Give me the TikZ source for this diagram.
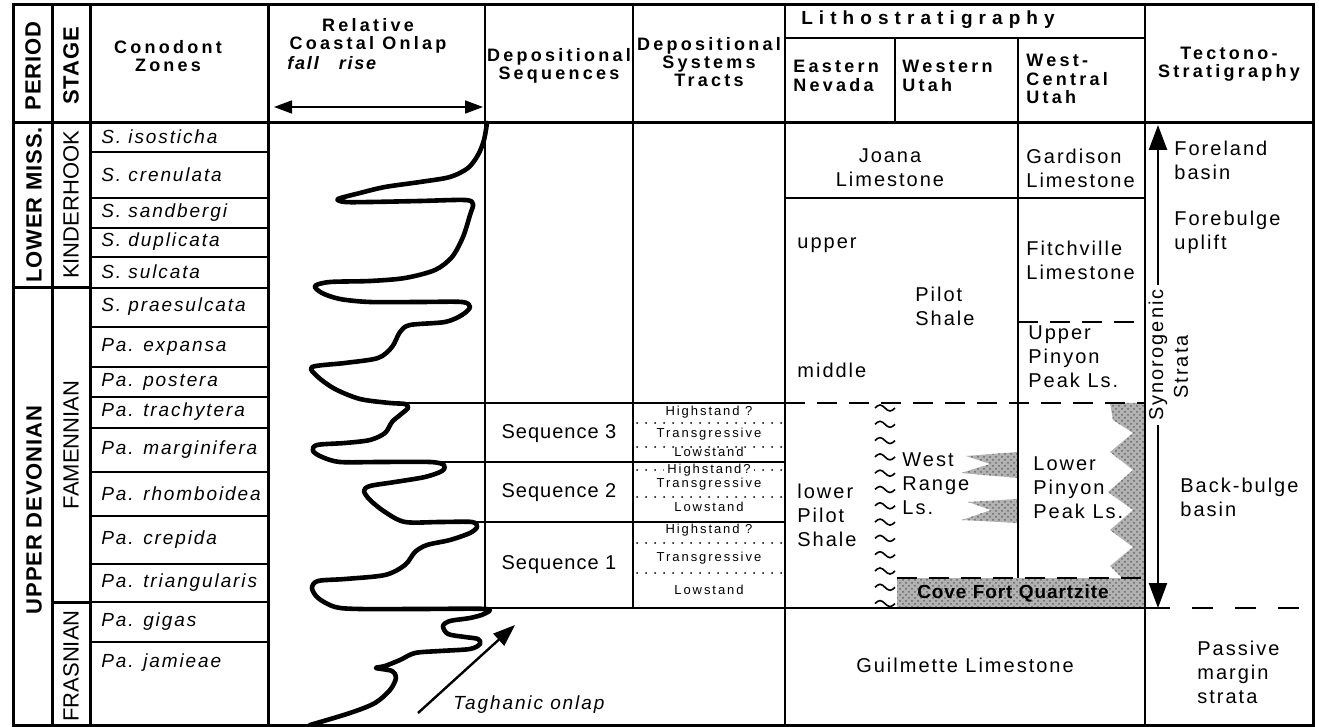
\documentclass[tikz,border=0pt]{standalone}
\usepackage{fontspec}
\setmainfont{Liberation Sans}
\usetikzlibrary{arrows.meta,patterns}

\begin{document}
\begin{tikzpicture}[x=0.5pt, y=-0.5pt,
    frame/.style={line width=1.5pt},
    rule/.style={line width=1pt},
    dashd/.style={line width=1pt, dash pattern=on 10pt off 6pt},
    dots/.style={line width=1pt, line cap=round, dash pattern=on 0pt off 4.5pt},
    hd/.style={font=\bfseries\fontsize{9}{9.2}\selectfont\addfontfeatures{LetterSpace=18}, align=center, inner sep=0pt},
    vhd/.style={font=\bfseries\fontsize{11}{12}\selectfont\addfontfeatures{LetterSpace=4}, rotate=90, inner sep=0pt},
    vst/.style={font=\fontsize{11}{12}\selectfont, rotate=90, inner sep=0pt},
    zone/.style={font=\itshape\fontsize{9.5}{10}\selectfont\addfontfeatures{LetterSpace=10}, anchor=west, inner sep=0pt},
    txt/.style={font=\fontsize{10}{12}\selectfont\addfontfeatures{LetterSpace=10}, align=left, anchor=west, inner sep=0pt},
    seq/.style={font=\fontsize{10}{10}\selectfont\addfontfeatures{LetterSpace=5}, inner sep=0pt},
    tract/.style={font=\fontsize{6.5}{7}\selectfont\addfontfeatures{LetterSpace=15}, inner sep=0pt},
    stip/.style={fill=black!30, postaction={pattern=crosshatch dots, pattern color=black!60}},
    arr/.style={-{Triangle[length=12.5pt, width=9pt]}, line width=1.2pt},
    onlap/.style={line width=2.3pt, line cap=round, line join=round}
]
\useasboundingbox (0,0) rectangle (1319,727);

% shaded units
\fill[stip] (897,578) rectangle (1145,608);
\fill[stip] (1145,403) -- (1110,403) -- (1113,420) -- (1133,433) -- (1110,452) -- (1133,470) -- (1108,492) -- (1133,510) -- (1110,530) -- (1133,547) -- (1110,566) -- (1122,578) -- (1145,578) -- cycle;
\fill[stip] (1018,452) -- (966,456) -- (990,464) -- (961,473) -- (1018,478) -- cycle;
\fill[stip] (1018,499) -- (968,502) -- (991,510) -- (962,520) -- (1018,523) -- cycle;

% table frame and rules
\draw[frame] (13,5) rectangle (1313,725);
\draw[frame] (13,123) -- (1313,123);
\draw[frame] (52,5) -- (52,725);
\draw[frame] (90,5) -- (90,725);
\draw[frame] (268,5) -- (268,725);
\draw[frame] (13,288) -- (90,288);
\draw[frame] (52,602) -- (90,602);
\foreach \y in {152,198,228,257,288,327,367,397,428,472,516,564,602,642}
  \draw[rule] (90,\y) -- (268,\y);
\draw[rule] (485,5) -- (485,608);
\draw[rule] (633,5) -- (633,608);
\draw[rule] (785,5) -- (785,725);
\draw[rule] (1145,5) -- (1145,725);
\draw[rule] (785,38) -- (1145,38);
\draw[rule] (895,38) -- (895,123);
\draw[rule] (1018,38) -- (1018,403);
\draw[rule] (1018,403) -- (1018,578);
\draw[rule] (785,198) -- (1145,198);
\draw[rule] (400,403) -- (785,403);
\draw[rule] (340,462) -- (785,462);
\draw[rule] (405,522) -- (785,522);
\draw[rule] (485,608) -- (1170,608);
\draw[dashd] (785,403) -- (1145,403);
\draw[dashd] (1018,322) -- (1145,322);
\draw[dashd] (897,578) -- (1145,578);
\draw[line width=1pt, dash pattern=on 10.5pt off 11pt] (1192,608) -- (1310,608);
\foreach \y in {423,447,497,543,573}
  \draw[dots] (637,\y) -- (783,\y);
\draw[dots] (637,470) -- (783,470);
\foreach \k in {0,...,12}
  \draw[line width=0.8pt] (875,{408+16.3*\k}) sin ++(5,-3) cos ++(5,3) sin ++(5,3) cos ++(5,-3);

% headings
\node[vhd] (hperiod) at (33,66) {PERIOD};
\node[vhd] (hstage) at (71,66) {STAGE};
\node[hd] (hzones) at (168,56) {Conodont\\Zones};
\node[hd] (honlap) at (368,36) {Relative\\Coastal Onlap};
\node[hd, anchor=west, font=\bfseries\itshape\fontsize{9}{9}\selectfont\addfontfeatures{LetterSpace=10}] (hfallrise) at (287,63) {fall\hspace{10pt}rise};
\coordinate (fallend) at (274,107);
\coordinate (riseend) at (483,107);
\draw[{Triangle[length=9pt, width=6.5pt]}-{Triangle[length=9pt, width=6.5pt]}, line width=0.8pt] (fallend) -- (riseend);
\node[hd] (hseq) at (559,66) {Depositional\\Sequences};
\node[hd] (htract) at (709,62) {Depositional\\Systems\\Tracts};
\node[hd, font=\bfseries\fontsize{9.5}{9}\selectfont\addfontfeatures{LetterSpace=32}] (hlitho) at (928,20) {Lithostratigraphy};
\node[hd, align=left, anchor=west] (hnev) at (793,76) {Eastern\\Nevada};
\node[hd, align=left, anchor=west] (hwut) at (902,76) {Western\\Utah};
\node[hd, align=left, anchor=west] (hwcut) at (1026,79) {West-\\Central\\Utah};
\node[hd] (htect) at (1229,64) {Tectono-\\Stratigraphy};

% period and stage
\node[vhd] (lmiss) at (34,205) {LOWER MISS.};
\node[vhd] (udev) at (34,510) {UPPER DEVONIAN};
\node[vst] (kind) at (71,205) {KINDERHOOK};
\node[vst] (famen) at (71,445) {FAMENNIAN};
\node[vst] (frasn) at (71,666) {FRASNIAN};

% conodont zones
\foreach \n/\t/\y in {z1/S. isosticha/137, z2/S. crenulata/175, z3/S. sandbergi/213, z4/S. duplicata/242,
    z5/S. sulcata/272, z6/S. praesulcata/307, z7/Pa. expansa/347, z8/Pa. postera/382,
    z9/Pa. trachytera/412, z10/Pa. marginifera/450, z11/Pa. rhomboidea/494, z12/Pa. crepida/540,
    z13/Pa. triangularis/583, z14/Pa. gigas/622, z15/Pa. jamieae/663}
  \node[zone] (\n) at (101,\y) {\t};

% onlap curve
\draw[onlap] plot[smooth, tension=0.5] coordinates {
  (487,123) (484,140) (478,155) (468,168) (450,177) (420,182) (385,187) (360,193) (338,199)
  (345,202) (370,202) (420,201) (465,200) (473,204) (470,215) (463,237) (452,257) (435,270)
  (405,278) (370,281) (330,282) (315,286) (322,293) (340,299) (370,302) (420,302) (462,302)
  (470,307) (462,315) (445,322) (410,325) (400,332) (392,347) (378,358) (345,363) (312,367)
  (318,377) (335,389) (360,399) (390,403) (405,404) (408,408) (400,415) (392,422) (385,433)
  (370,440) (345,443) (317,445) (313,451) (322,457) (340,462) (380,462) (430,462) (444,465)
  (442,471) (425,477) (395,482) (370,486) (364,491) (370,500) (385,512) (405,522) (440,522)
  (472,522) (477,527) (470,533) (450,540) (427,545) (415,552) (405,565) (385,575) (345,579)
  (318,581) (312,588) (318,598) (335,607) (360,609) (420,609) (486,609) (484,614) (470,618)
  (450,621) (443,626) (448,634) (465,637) (478,639) (480,644) (470,649) (440,651) (415,653)
  (400,660) (385,666) (376,668) (392,671) (396,678) (390,690) (375,703) (350,713) (310,725)};
\coordinate (tagtail) at (418,713);
\coordinate (taghead) at (515,625);
\draw[-{Triangle[length=11pt, width=8pt]}, line width=1.2pt] (tagtail) -- (taghead);
\node[zone] (tag) at (453,705) {Taghanic onlap};

% sequences and tracts
\node[seq] (seq3) at (559,434) {Sequence 3};
\node[seq] (seq2) at (559,493) {Sequence 2};
\node[seq] (seq1) at (559,565) {Sequence 1};
\node[tract] (hs3) at (709,412) {Highstand ?};
\node[tract] (tr3) at (709,434) {Transgressive};
\node[tract] (ls3) at (709,452) {Lowstand};
\node[tract, fill=white, inner xsep=1.5pt] (hs2) at (709,470) {Highstand?};
\node[tract] (tr2) at (709,484) {Transgressive};
\node[tract] (ls2) at (709,507) {Lowstand};
\node[tract] (hs1) at (709,530) {Highstand ?};
\node[tract] (tr1) at (709,558) {Transgressive};
\node[tract] (ls1) at (709,590) {Lowstand};

% lithostratigraphy
\node[txt, align=center, anchor=center] (joana) at (890,168) {Joana\\Limestone};
\node[txt] (gardison) at (1026,168) {Gardison\\Limestone};
\node[txt] (pupper) at (797,245) {upper};
\node[txt] (pilot) at (915,306) {Pilot\\Shale};
\node[txt] (pmiddle) at (797,370) {middle};
\node[txt] (fitch) at (1026,260) {Fitchville\\Limestone};
\node[txt] (uppinyon) at (1028,357) {Upper\\Pinyon\\Peak Ls.};
\node[txt] (lowpilot) at (797,515) {lower\\Pilot\\Shale};
\node[txt] (westrange) at (902,484) {West\\Range\\Ls.};
\node[txt] (lowpinyon) at (1033,488) {Lower\\Pinyon\\Peak Ls.};
\node[font=\bfseries\fontsize{9.5}{10}\selectfont\addfontfeatures{LetterSpace=5}, inner sep=0pt] (cove) at (1013,593) {Cove Fort Quartzite};
\node[txt, anchor=center] (guilmette) at (965,665) {Guilmette Limestone};

% tectono-stratigraphy
\node[txt] (foreland) at (1174,160) {Foreland\\basin};
\node[txt] (forebulge) at (1174,232) {Forebulge\\uplift};
\node[txt] (backbulge) at (1180,497) {Back-bulge\\basin};
\node[txt] (passive) at (1197,672) {Passive\\margin\\strata};
\node[txt, rotate=90, anchor=center] (synor) at (1158,355) {Synorogenic};
\node[txt, rotate=90, anchor=center] (strata) at (1181,367) {Strata};
\coordinate (syntop) at (1158,125);
\coordinate (synbot) at (1158,608);
\draw[arr, shorten <=2pt] (synor.east) -- (syntop);
\draw[arr, shorten <=2pt] (synor.west) -- (synbot);
\end{tikzpicture}
\end{document}
